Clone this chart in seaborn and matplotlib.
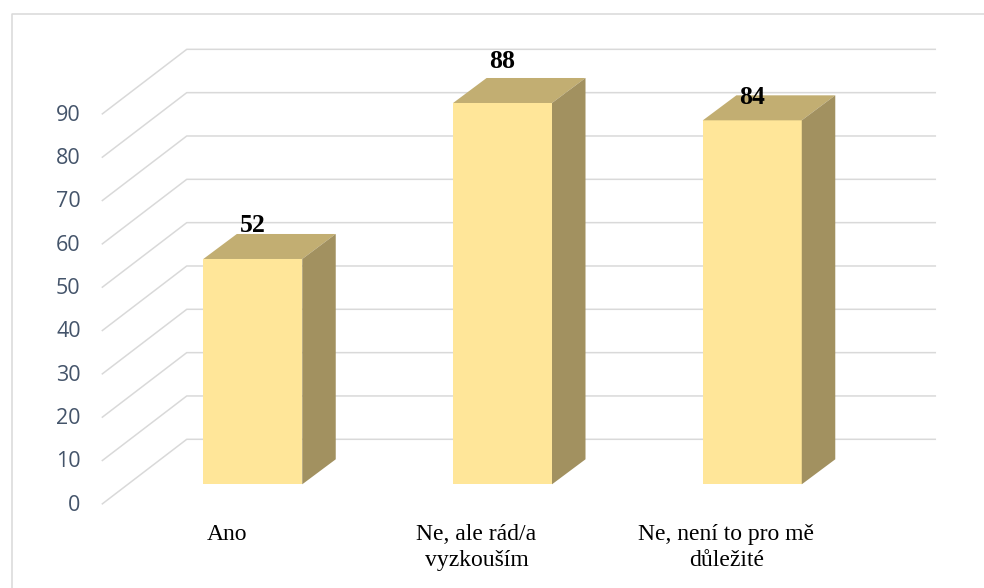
import numpy as np
import pandas as pd
import matplotlib
matplotlib.use("Agg")
import matplotlib.pyplot as plt
from matplotlib.patches import Polygon
from matplotlib.lines import Line2D
from matplotlib.transforms import IdentityTransform
import seaborn as sns

# --- data -------------------------------------------------------------
categories = ["Ano", "Ne, ale rád/a\nvyzkouším", "Ne, není to pro mě\ndůležité"]
counts = [52, 88, 84]
y_ticks = [0, 10, 20, 30, 40, 50, 60, 70, 80, 90]

# --- style ------------------------------------------------------------
FRONT = "#FFE699"
TOP = "#C2AE72"
SIDE = "#A29160"
GRID = "#D9D9D9"
TICK_COLOR = "#44546A"
label_lift = [27, 35, 16]  # value labels: pixels above the front top edge

W, H, DPI = 984, 588, 100
sns.set_theme(style="white")

fig = plt.figure(figsize=(W / DPI, H / DPI), dpi=DPI)
fig.patch.set_facecolor("white")

# The axes is the plane of the bars' front faces; depth is added as a pixel offset.
ax = fig.add_axes([127.9 / W, (H - 484.3) / H, 749.3 / W, 433.3 / H])
ax.patch.set_visible(False)

df = pd.DataFrame({"kategorie": categories, "pocet": counts})
sns.barplot(data=df, x="kategorie", y="pocet", ax=ax, width=0.396,
            color=FRONT, saturation=1, errorbar=None,
            edgecolor="none", linewidth=0, zorder=3)
ax.set_xlim(-0.5, 2.5)
ax.set_ylim(0, 100)
ax.axis("off")

# oblique depth of the floor (front -> back wall) and of a single bar, in pixels
depth = np.array([85.0, 65.0])
frac = 20.0 / 65.0
front_off = -frac * depth
back_off = (1 - frac) * depth
bar_depth = np.array([33.5, 25.0])


def disp(x, v):
    return np.asarray(ax.transData.transform((x, v)))


# back-wall gridlines and the diagonals on the side wall
for v in y_ticks:
    p = disp(-0.5, v)
    q = disp(2.5, v)
    pts = np.array([p + front_off, p + back_off, q + back_off])
    ax.add_line(Line2D(pts[:, 0], pts[:, 1], transform=IdentityTransform(),
                       color=GRID, lw=1.1, zorder=0.5, clip_on=False,
                       solid_capstyle="butt"))
    ax.annotate(str(v), xy=(-0.5, v), xytext=(front_off[0] - 21, front_off[1] - 1),
                textcoords="offset pixels", ha="right", va="center",
                fontsize=15.5, color=TICK_COLOR, family="Open Sans",
                annotation_clip=False)

# top and side faces of each bar
bars = sorted(ax.patches, key=lambda r: r.get_x())
for bar, n, lift, cat in zip(bars, counts, label_lift, categories):
    bar.set_clip_on(False)
    x0 = bar.get_x()
    x1 = x0 + bar.get_width()
    h = bar.get_height()
    a, b, c = disp(x0, h), disp(x1, h), disp(x1, 0)
    ax.add_patch(Polygon([a, b, b + bar_depth, a + bar_depth], closed=True,
                         transform=IdentityTransform(), fc=TOP, ec="none",
                         zorder=3, clip_on=False))
    ax.add_patch(Polygon([b, c, c + bar_depth, b + bar_depth], closed=True,
                         transform=IdentityTransform(), fc=SIDE, ec="none",
                         zorder=3, clip_on=False))
    xc = x0 + bar.get_width() / 2
    ax.annotate(str(n), xy=(xc, h), xytext=(0, lift), textcoords="offset pixels",
                ha="center", va="baseline", fontsize=18.5, fontweight="bold",
                family="Liberation Serif", color="black", annotation_clip=False,
                zorder=5)
    ax.annotate(cat, xy=(xc, 0), xytext=(front_off[0], -39.6),
                textcoords="offset pixels", ha="center", va="top",
                multialignment="center", linespacing=1.3, fontsize=17,
                family="Liberation Serif", color="black", annotation_clip=False)

# chart-area border (top and left edges)
fig.add_artist(Line2D([11.5, 11.5, W], [0, H - 14, H - 14],
                      transform=IdentityTransform(), color=GRID, lw=1.1))

fig.savefig("out.png", dpi=DPI, facecolor="white")
